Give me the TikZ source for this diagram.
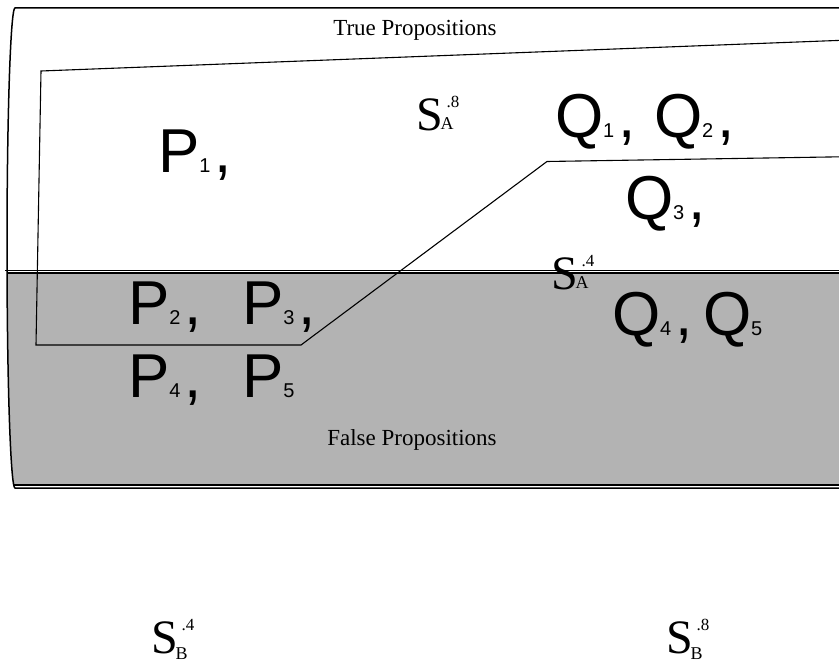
\documentclass[tikz,border=0pt]{standalone}
\usepackage{fontspec}
\setmainfont{Liberation Serif}
\newfontfamily\arialf{Liberation Sans}
\definecolor{fillgray}{RGB}{179,179,179}
\newcommand{\trm}[3]{{\arialf\fontsize{62}{62}\selectfont #1\fontsize{20}{20}\selectfont #2\kern4pt\fontsize{62}{62}\selectfont #3}}
\newcommand{\slab}[3]{{\fontsize{48}{48}\selectfont S}\kern-2pt\rlap{\raisebox{#3}{\fontsize{18}{18}\selectfont #1}}\kern6pt\raisebox{23pt}{\fontsize{17}{17}\selectfont #2}}
\tikzset{
  term/.style={anchor=base west, inner sep=0pt, outer sep=0pt},
  caption/.style={anchor=base, inner sep=0pt, font=\fontsize{23}{23}\selectfont},
  outline/.style={line width=1.5pt, black},
  region/.style={line width=1.1pt, black, line join=miter},
}
\begin{document}
\begin{tikzpicture}[x=1pt,y=-1pt]
\useasboundingbox (0,0) rectangle (839,663);
\clip (0,0) rectangle (839,663);
% gray false region
\begin{scope}
\clip (0,273) rectangle (860,485);
\fill[fillgray] (860,8) -- (15,8) .. controls (10.58,8) and (7,115.45) .. (7,248)
   .. controls (7,380.55) and (10.58,488) .. (15,488) -- (860,488) -- cycle;
\end{scope}
% outer shape
\draw[outline] (860,8) -- (15,8) .. controls (10.58,8) and (7,115.45) .. (7,248)
   .. controls (7,380.55) and (10.58,488) .. (15,488) -- (860,488);
\draw[line width=1.6pt] (13,485) -- (860,485);
\draw[line width=0.8pt] (5,270.5) -- (860,270.5);
\draw[line width=1.4pt] (7,273.2) -- (860,273.2);
% inner region
\coordinate (r1) at (860,39.6);
\coordinate (r2) at (41,71);
\coordinate (r3) at (36,345);
\coordinate (r4) at (301,345);
\coordinate (r5) at (547,161.5);
\coordinate (r6) at (860,156.5);
\draw[region] (r1) -- (r2) -- (r3) -- (r4) -- (r5) -- (r6);
% captions
\node[caption] (tp) at (415,36) {True Propositions};
\node[caption] (fp) at (412,445) {False Propositions};
% terms
\node[term] (p1) at (158,173) {\trm{P}{1}{,}};
\node[term] (q1) at (555,138) {\trm{Q}{1}{,}};
\node[term] (q2) at (654,138) {\trm{Q}{2}{,}};
\node[term] (q3) at (625,220) {\trm{Q}{3}{,}};
\node[term] (p2) at (128,325) {\trm{P}{2}{,}};
\node[term] (p3) at (242,325) {\trm{P}{3}{,}};
\node[term] (q4) at (612,336) {\trm{Q}{4}{,}};
\node[term] (q5) at (703,336) {\trm{Q}{5}{}};
\node[term] (p4) at (128,398) {\trm{P}{4}{,}};
\node[term] (p5) at (242,398) {\trm{P}{5}{}};
% S labels
\node[term] (sa8) at (416,131) {\slab{A}{.8}{1pt}};
\node[term] (sa4) at (551,290) {\slab{A}{.4}{1pt}};
\node[term] (sb4) at (151,653) {\slab{B}{.4}{-6pt}};
\node[term] (sb8) at (666,653) {\slab{B}{.8}{-6pt}};
\end{tikzpicture}
\end{document}
